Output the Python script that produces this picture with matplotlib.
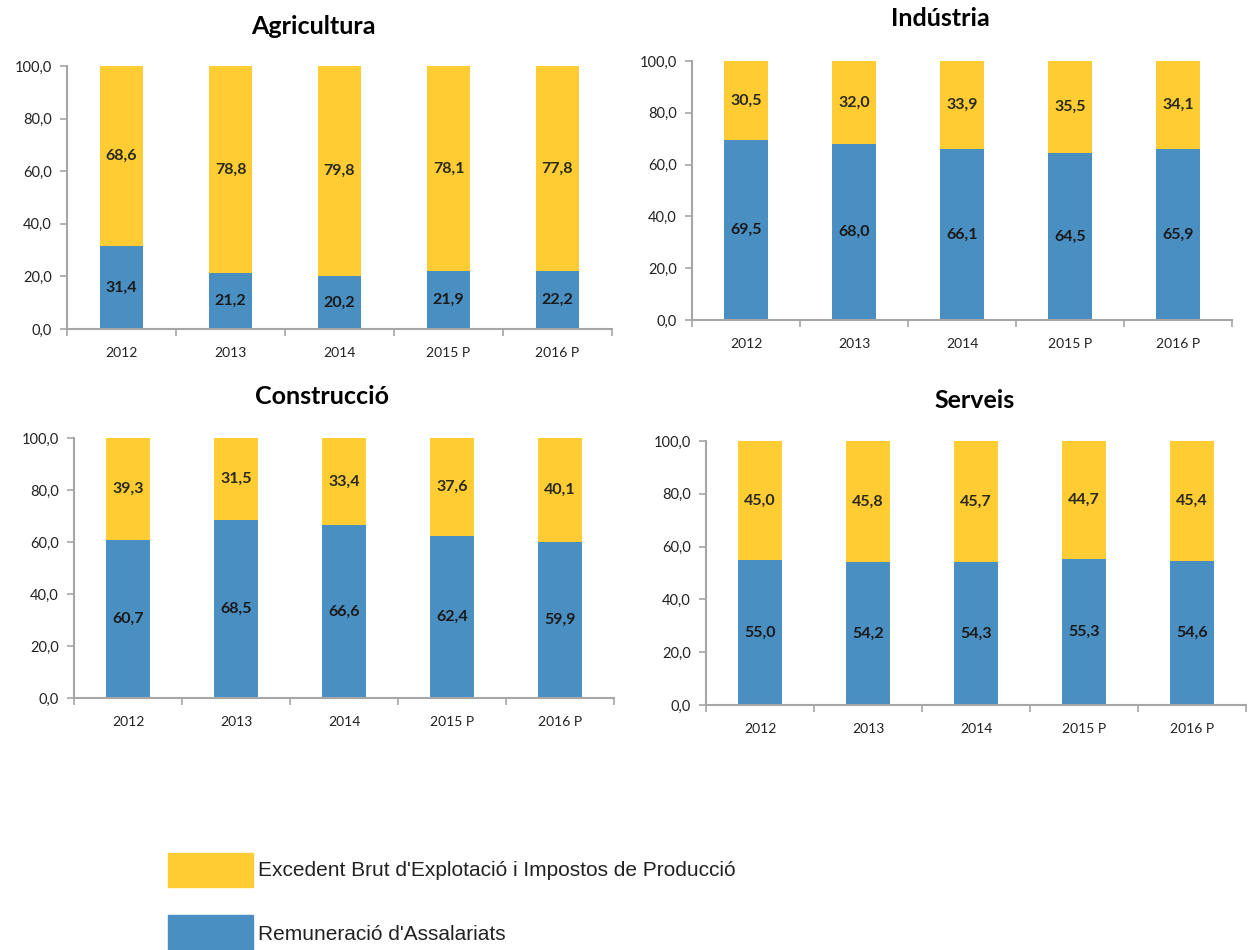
import matplotlib
matplotlib.use('Agg')
import matplotlib.pyplot as plt
import numpy as np
from matplotlib.patches import Rectangle

#  Distribucio de la renda per sectors (2012 - 2016 P)

years = ['2012', '2013', '2014', '2015 P', '2016 P']

agri_rem = [31.4, 21.2, 20.2, 21.9, 22.2]
agri_exc = [68.6, 78.8, 79.8, 78.1, 77.8]
ind_rem = [69.5, 68.0, 66.1, 64.5, 65.9]
ind_exc = [30.5, 32.0, 33.9, 35.5, 34.1]
cons_rem = [60.7, 68.5, 66.6, 62.4, 59.9]
cons_exc = [39.3, 31.5, 33.4, 37.6, 40.1]
serv_rem = [55.0, 54.2, 54.3, 55.3, 54.6]
serv_exc = [45.0, 45.8, 45.7, 44.7, 45.4]

legend_exc = "Excedent Brut d'Explotació i Impostos de Producció"
legend_rem = "Remuneració d'Assalariats"

YELLOW = '#FFCC33'
BLUE = '#4A8FC2'
GRAY = '#A6A6A6'

W, H = 1254, 950
plt.rcParams['font.family'] = ['Lato', 'DejaVu Sans']


def px_axes(fig, left, right, top, bottom):
    return fig.add_axes([left / W, 1 - bottom / H, (right - left) / W, (bottom - top) / H])


def fmt(v):
    return ('%.1f' % v).replace('.', ',')


## Draw one stacked bar panel
def plotPanel(ax, title, rem, exc, title_xy):
    x = np.arange(len(years))
    ax.bar(x, rem, 0.4, color=BLUE)
    ax.bar(x, exc, 0.4, bottom=rem, color=YELLOW)
    for i in range(len(years)):
        ax.text(x[i], rem[i] / 2, fmt(rem[i]), ha='center', va='center',
                fontsize=11.5, fontweight='bold', color='#1a1a1a')
        ax.text(x[i], rem[i] + exc[i] / 2, fmt(exc[i]), ha='center', va='center',
                fontsize=11.5, fontweight='bold', color='#2a2a1a')

    ax.set_xlim(-0.5, len(years) - 0.5)
    ax.set_ylim(0, 100)
    ax.set_yticks(np.arange(0, 101, 20))
    ax.set_yticklabels([fmt(v) for v in np.arange(0, 101, 20)])
    ax.set_xticks(x)
    ax.set_xticklabels(years)
    ax.set_xticks(np.arange(-0.5, len(years), 1), minor=True)
    ax.tick_params(axis='x', which='major', length=0, pad=13, labelsize=10, labelcolor='#222222')
    ax.tick_params(axis='x', which='minor', length=5, color=GRAY, width=1.2)
    ax.tick_params(axis='y', length=5, color=GRAY, width=1.2, labelsize=10.5, pad=6,
                   labelcolor='#222222')
    for s in ['top', 'right']:
        ax.spines[s].set_visible(False)
    for s in ['left', 'bottom']:
        ax.spines[s].set_color(GRAY)
        ax.spines[s].set_linewidth(1.5)
    fig.text(title_xy[0] / W, 1 - title_xy[1] / H, title, ha='center', va='center',
             fontsize=18, fontweight='bold')


fig = plt.figure(figsize=(W / 100, H / 100), dpi=100)

ax1 = px_axes(fig, 67, 612, 66, 329)
plotPanel(ax1, 'Agricultura', agri_rem, agri_exc, (313, 27))

ax2 = px_axes(fig, 692, 1232, 61, 320)
plotPanel(ax2, 'Indústria', ind_rem, ind_exc, (940, 18))

ax3 = px_axes(fig, 74, 614, 438, 698)
plotPanel(ax3, 'Construcció', cons_rem, cons_exc, (322, 397))

ax4 = px_axes(fig, 706, 1246, 441, 705)
plotPanel(ax4, 'Serveis', serv_rem, serv_exc, (975, 401))

# legend drawn as big patches like the original
fig.patches.append(Rectangle((168 / W, 1 - 887 / H), 85 / W, 34 / H,
                             transform=fig.transFigure, color=YELLOW))
fig.patches.append(Rectangle((168 / W, 1 - 950 / H), 85 / W, 35 / H,
                             transform=fig.transFigure, color=BLUE))
fig.text(258 / W, 1 - 870 / H, legend_exc, ha='left', va='center',
         fontsize=15, family='Liberation Sans', color='#222222')
fig.text(258 / W, 1 - 934 / H, legend_rem, ha='left', va='center',
         fontsize=15, family='Liberation Sans', color='#222222')

fig.savefig('out.png', dpi=100)
